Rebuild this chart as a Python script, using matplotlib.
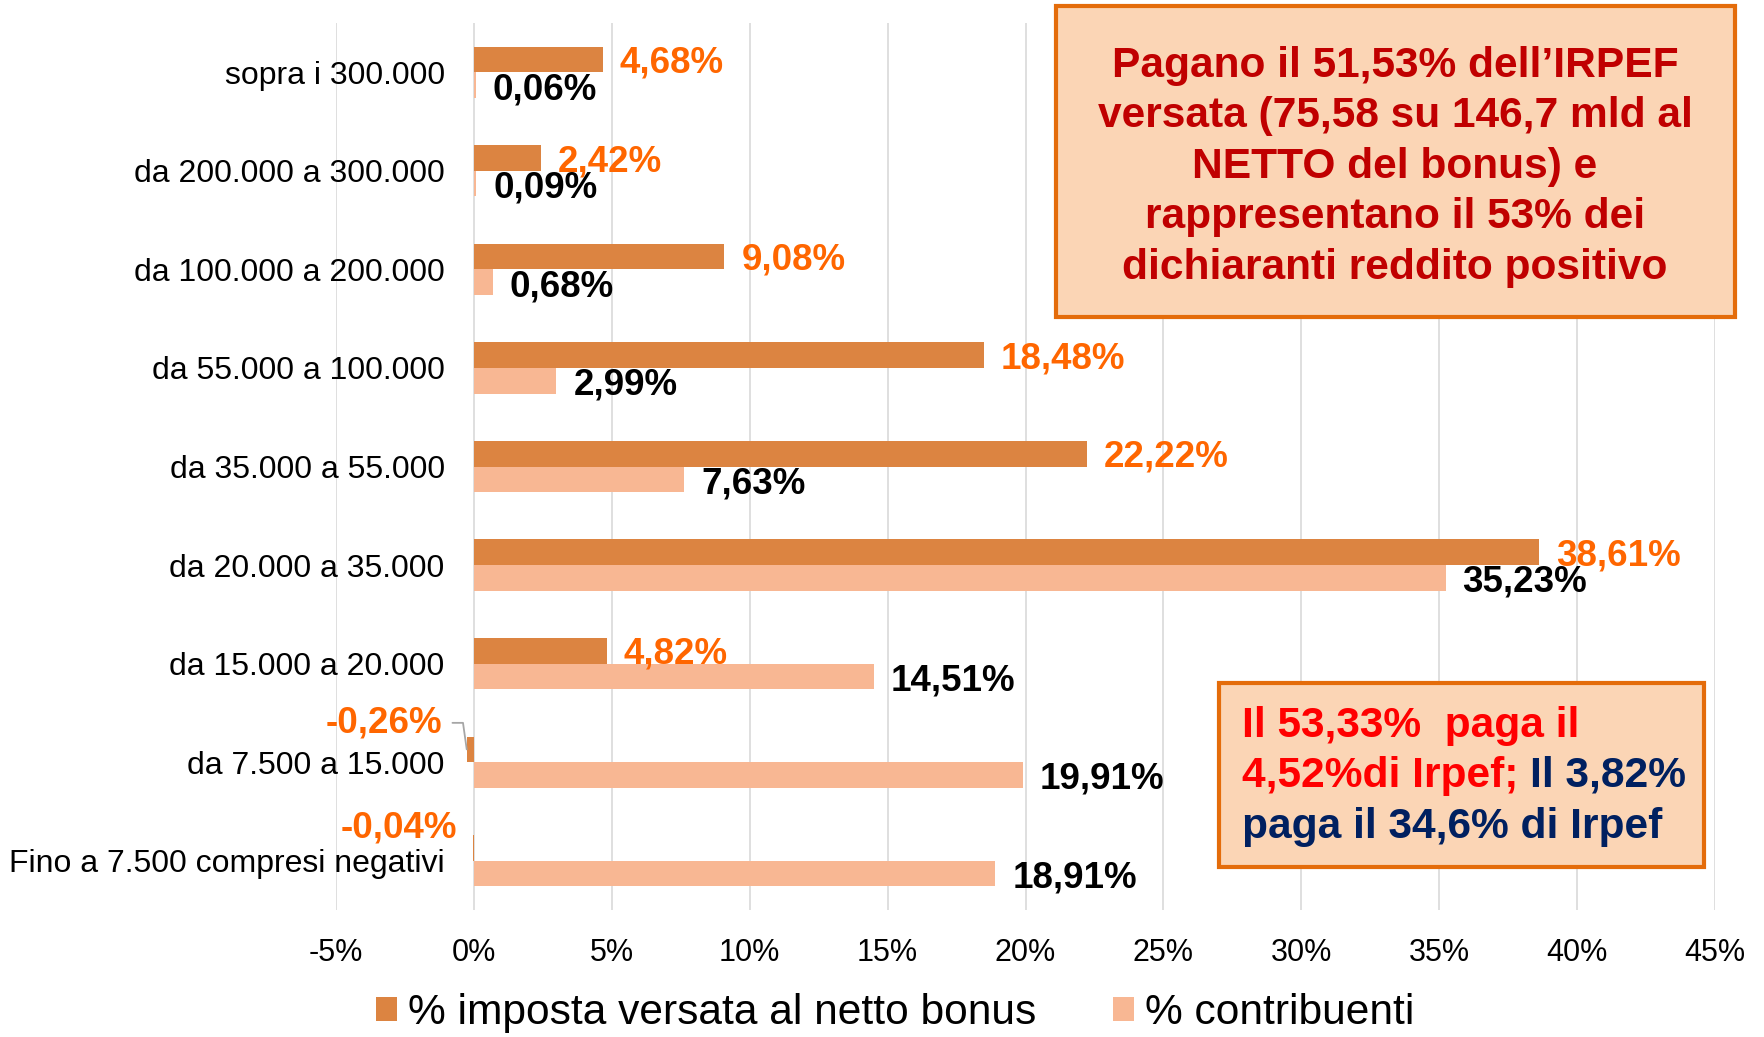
import matplotlib
matplotlib.use('Agg')
import matplotlib.pyplot as plt
import matplotlib.transforms as mtransforms
from matplotlib.patches import Rectangle
import numpy as np

# ---------------- data ----------------
categories = ["sopra i 300.000", "da 200.000 a 300.000", "da 100.000 a 200.000",
              "da 55.000 a 100.000", "da 35.000 a 55.000", "da 20.000 a 35.000",
              "da 15.000 a 20.000", "da 7.500 a 15.000", "Fino a 7.500 compresi negativi"]
imposta = [4.68, 2.42, 9.08, 18.48, 22.22, 38.61, 4.82, -0.26, -0.04]
contribuenti = [0.06, 0.09, 0.68, 2.99, 7.63, 35.23, 14.51, 19.91, 18.91]
series_names = ["% imposta versata al netto bonus", "% contribuenti"]
xticks = [-5, 0, 5, 10, 15, 20, 25, 30, 35, 40, 45]
xtick_labels = ["-5%", "0%", "5%", "10%", "15%", "20%", "25%", "30%", "35%", "40%", "45%"]

box1_lines = ["Pagano il 51,53% dell\u2019IRPEF",
              "versata (75,58 su 146,7 mld al",
              "NETTO del bonus) e",
              "rappresentano il 53% dei",
              "dichiaranti reddito positivo"]
box2_line1 = "Il 53,33%  paga il"
box2_line2a = "4,52%di Irpef;"
box2_line2b = "Il 3,82%"
box2_line3 = "paga il 34,6% di Irpef"

# ---------------- style ----------------
plt.rcParams['font.family'] = ['Liberation Sans', 'DejaVu Sans']
DARK = '#DC8441'
LIGHT = '#F8B793'
ORANGE_TXT = '#FF6600'
BOX_FILL = '#FBD5B5'
BOX_EDGE = '#E46C0A'

W, H = 1765, 1037
fig = plt.figure(figsize=(W / 100, H / 100), dpi=100)
ax = fig.add_axes([336 / W, 1 - 910 / H, (1715 - 336) / W, (910 - 23) / H])

y = np.arange(len(categories))
bh = 0.26
ax.barh(y - bh / 2, imposta, height=bh, color=DARK, label=series_names[0], zorder=2)
ax.barh(y + bh / 2, contribuenti, height=bh, color=LIGHT, label=series_names[1], zorder=2)

ax.set_xlim(-5, 45)
ax.set_ylim(len(categories) - 0.5, -0.5)
ax.set_xticks(xticks)
ax.set_xticklabels(xtick_labels, fontsize=22)
ax.grid(axis='x', color='#D9D9D9', lw=1.2)
ax.set_axisbelow(True)
for s in ax.spines.values():
    s.set_visible(False)
ax.tick_params(axis='both', length=0)
ax.tick_params(axis='x', pad=20)
ax.set_yticks(y)
ax.set_yticklabels(categories, fontsize=23)
ax.tick_params(axis='y', pad=0)
offset = mtransforms.ScaledTranslation(1.087, 0, fig.dpi_scale_trans)
for lbl in ax.get_yticklabels():
    lbl.set_transform(lbl.get_transform() + offset)


def fmt(v):
    return f"{v:.2f}".replace('.', ',') + '%'


LBL_FS = 26.5
for i, v in enumerate(imposta):
    if v >= 0:
        ax.annotate(fmt(v), xy=(v, i - bh / 2), xytext=(17, -13), textcoords='offset pixels',
                    ha='left', va='baseline', color=ORANGE_TXT, fontsize=LBL_FS,
                    fontweight='bold', zorder=4)
for i, v in enumerate(contribuenti):
    ax.annotate(fmt(v), xy=(v, i + bh / 2), xytext=(17, -14), textcoords='offset pixels',
                ha='left', va='baseline', color='black', fontsize=LBL_FS,
                fontweight='bold', zorder=4)

# negative labels
ax.annotate(fmt(imposta[7]), xy=(imposta[7], 7 - bh / 2), xytext=(-24, 17),
            textcoords='offset pixels', ha='right', va='baseline', color=ORANGE_TXT,
            fontsize=LBL_FS, fontweight='bold', zorder=4,
            arrowprops=dict(arrowstyle='-', color='#A6A6A6', lw=1.3, shrinkA=5, shrinkB=0,
                            connectionstyle='angle,angleA=0,angleB=98,rad=0'))
ax.annotate(fmt(imposta[8]), xy=(imposta[8], 8 - bh / 2), xytext=(-16, 10),
            textcoords='offset pixels', ha='right', va='baseline', color=ORANGE_TXT,
            fontsize=LBL_FS, fontweight='bold', zorder=4)

# ---------------- boxes ----------------
BOX_FS = 30.6
fig.patches.append(Rectangle((1056 / W, 1 - 317 / H), (1735 - 1056) / W, (317 - 6) / H,
                             transform=fig.transFigure, facecolor=BOX_FILL,
                             edgecolor=BOX_EDGE, lw=3, zorder=5))
for line, b in zip(box1_lines, [76.7, 127.2, 177.7, 228.2, 278.7]):
    fig.text(1395 / W, 1 - b / H, line, ha='center', va='baseline', fontsize=BOX_FS,
             fontweight='bold', color='#C00000', zorder=6)

fig.patches.append(Rectangle((1219 / W, 1 - 867 / H), (1704 - 1219) / W, (867 - 683) / H,
                             transform=fig.transFigure, facecolor=BOX_FILL,
                             edgecolor=BOX_EDGE, lw=3, zorder=5))
RED = '#FF0000'
NAVY = '#002060'
fig.text(1242 / W, 1 - 736.7 / H, box2_line1, ha='left', va='baseline', fontsize=BOX_FS,
         fontweight='bold', color=RED, zorder=6)
line2_y = 1 - 786.7 / H
t2 = fig.text(1242 / W, line2_y, box2_line2a, ha='left', va='baseline', fontsize=BOX_FS,
              fontweight='bold', color=RED, zorder=6)
fig.text(1242 / W, 1 - 838 / H, box2_line3, ha='left', va='baseline', fontsize=BOX_FS,
         fontweight='bold', color=NAVY, zorder=6)

fig.canvas.draw()
r = fig.canvas.get_renderer()
ext = t2.get_window_extent(renderer=r)
fig.text((ext.x1 + 12) / W, line2_y, box2_line2b, ha='left', va='baseline', fontsize=BOX_FS,
         fontweight='bold', color=NAVY, zorder=6)

# ---------------- legend ----------------
handles, labels = ax.get_legend_handles_labels()
fig.legend(handles, labels, loc='center', bbox_to_anchor=(895 / W, 1 - 1013 / H), ncol=2,
           frameon=False, fontsize=30.6, handlelength=0.5, handleheight=0.5,
           handletextpad=0.25, columnspacing=1.8, borderpad=0)

fig.savefig('out.png', dpi=100)
